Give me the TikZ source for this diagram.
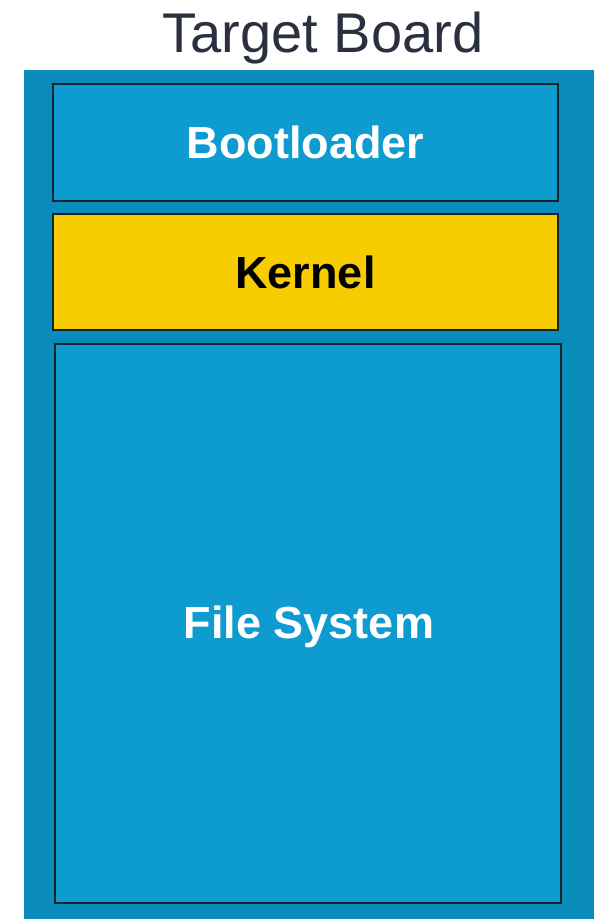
\documentclass[tikz,border=0pt]{standalone}
\usepackage{fontspec}
\setmainfont{Liberation Sans}
\definecolor{boardblue}{HTML}{0A8CBB}
\definecolor{boxblue}{HTML}{0E9BCF}
\definecolor{kernelyellow}{HTML}{F7CC00}
\definecolor{titlegray}{HTML}{2B3040}
\definecolor{edgedark}{HTML}{102530}
\tikzset{
  layerbox/.style={draw=edgedark, line width=2pt, inner sep=0pt, outer sep=0pt,
    font=\fontsize{45}{54}\selectfont\bfseries},
  board/.style={fill=boardblue, draw=none},
}
\begin{document}
\begin{tikzpicture}[x=1pt,y=-1pt]
\useasboundingbox (0,0) rectangle (594,919);
\fill[white] (0,0) rectangle (594,919);
\node[board, minimum width=570pt, minimum height=850pt, inner sep=0pt, outer sep=0pt, anchor=north west] (boardrect) at (24,70) {};
\node[anchor=base, text=titlegray, font=\fontsize{56}{67}\selectfont, inner sep=0pt] (title) at (323,52) {Target Board};
\node[layerbox, fill=boxblue, text=white, minimum width=505pt, minimum height=117pt] (boot) at (305.5,142.5) {Bootloader};
\node[layerbox, fill=kernelyellow, text=black, minimum width=505pt, minimum height=116pt] (kernel) at (305.5,272) {Kernel};
\node[layerbox, fill=boxblue, minimum width=506pt, minimum height=559pt] (fs) at (308,623.5) {};
\node[text=white, font=\fontsize{45}{54}\selectfont\bfseries, inner sep=0pt] (fslabel) at (309,627) {File System};
\end{tikzpicture}
\end{document}
